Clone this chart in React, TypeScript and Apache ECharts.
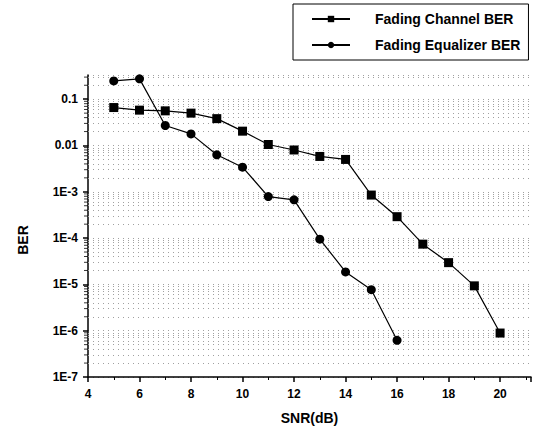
import React, { useEffect, useRef } from "react";
import * as echarts from "echarts";

const channelSNR = [5, 6, 7, 8, 9, 10, 11, 12, 13, 14, 15, 16, 17, 18, 19, 20];
const channelBER = [0.066, 0.058, 0.056, 0.05, 0.038, 0.0204, 0.0105, 0.008, 0.0058, 0.005, 8.5e-4, 2.9e-4, 7.4e-5, 2.95e-5, 9.3e-6, 8.9e-7];
const equalizerSNR = [5, 6, 7, 8, 9, 10, 11, 12, 13, 14, 15, 16];
const equalizerBER = [0.248, 0.275, 0.027, 0.0178, 0.0063, 0.0034, 7.9e-4, 6.7e-4, 9.5e-5, 1.86e-5, 7.7e-6, 6.2e-7];
const decades = [-7, -6, -5, -4, -3, -2, -1];
const minorSteps = [2, 3, 4, 5, 6, 7, 8, 9];
const yTickLabels: Record<string, string> = {
  "-7": "1E-7", "-6": "1E-6", "-5": "1E-5", "-4": "1E-4", "-3": "1E-3", "-2": "0.01", "-1": "0.1",
};

const X_MIN = 4;
const X_MAX = 21.2;
const Y_MIN_BER = 1e-7;
const Y_MAX_BER = 0.333;

const FONT = "'Liberation Sans Narrow', 'Liberation Sans', Arial, sans-serif";
const FONT_WIDE = "'Liberation Sans', Arial, sans-serif";

export default function App() {
  const ref = useRef<HTMLDivElement>(null);
  useEffect(() => {
    if (!ref.current) return;
    const chart = echarts.init(ref.current, undefined, { renderer: "svg" });
    const lg = (v: number) => Math.log10(v);
    const minorLogs: number[] = [];
    decades.forEach((d) => {
      minorSteps.forEach((k) => {
        const v = k * Math.pow(10, d);
        if (v < Y_MAX_BER) minorLogs.push(lg(v));
      });
    });
    const gridStyle = { color: "#a0a0a0", type: [1, 4] as any, width: 1 };
    chart.setOption({
      animation: false,
      backgroundColor: "#ffffff",
      grid: { left: 88, top: 75, width: 443, height: 302 },
      legend: {
        orient: "vertical",
        left: 293,
        top: 4,
        data: ["Fading Channel BER", "Fading Equalizer BER"],
        borderColor: "#000",
        borderWidth: 1,
        borderRadius: 0,
        padding: [7, 8, 7, 18],
        itemWidth: 38,
        itemHeight: 8,
        itemGap: 10,
        textStyle: {
          fontFamily: FONT_WIDE,
          fontWeight: "bold",
          fontSize: 14,
          color: "#000",
          lineHeight: 16,
          padding: [0, 0, 0, 20],
        },
      },
      xAxis: {
        type: "value",
        min: X_MIN,
        max: X_MAX,
        interval: 2,
        name: "SNR(dB)",
        nameLocation: "middle",
        nameGap: 34,
        nameTextStyle: { fontFamily: FONT_WIDE, fontWeight: "bold", fontSize: 14, color: "#000" },
        axisLine: { show: true, onZero: false, lineStyle: { color: "#000", width: 1.5 } },
        axisTick: { show: true, length: 5, lineStyle: { color: "#000", width: 1.5 } },
        minorTick: { show: true, splitNumber: 2, length: 3, lineStyle: { color: "#000", width: 1 } },
        splitLine: { show: false },
        axisLabel: {
          margin: 11,
          fontFamily: FONT,
          fontWeight: "bold",
          fontSize: 12,
          color: "#000",
          showMaxLabel: false,
          formatter: (v: number) => (Number.isInteger(v) ? String(v) : ""),
        },
      },
      yAxis: {
        type: "value",
        min: lg(Y_MIN_BER),
        max: lg(Y_MAX_BER),
        interval: 1,
        name: "BER",
        nameLocation: "middle",
        nameGap: 58,
        nameTextStyle: { fontFamily: FONT_WIDE, fontWeight: "bold", fontSize: 14, color: "#000", padding: [0, 28, 0, 0] },
        axisLine: { show: true, onZero: false, lineStyle: { color: "#000", width: 1.5 } },
        axisTick: { show: true, length: 5, lineStyle: { color: "#000", width: 1.5 } },
        splitLine: { show: true, lineStyle: gridStyle },
        axisLabel: {
          margin: 10,
          fontFamily: FONT,
          fontWeight: "bold",
          fontSize: 12,
          color: "#000",
          showMaxLabel: false,
          formatter: (v: number) => yTickLabels[String(Math.round(v))] ?? "",
        },
      },
      series: [
        {
          name: "Fading Channel BER",
          type: "line",
          data: channelSNR.map((x, i) => [x, lg(channelBER[i])]),
          symbol: "rect",
          symbolSize: 9,
          itemStyle: { color: "#000" },
          lineStyle: { color: "#000", width: 1.2 },
          z: 5,
          markLine: {
            silent: true,
            symbol: "none",
            label: { show: false },
            lineStyle: gridStyle,
            data: minorLogs.map((v) => ({ yAxis: v })),
            z: 1,
          },
        },
        {
          name: "Fading Equalizer BER",
          type: "line",
          data: equalizerSNR.map((x, i) => [x, lg(equalizerBER[i])]),
          symbol: "circle",
          symbolSize: 9,
          itemStyle: { color: "#000" },
          lineStyle: { color: "#000", width: 1.2 },
          z: 5,
        },
        {
          name: "minor ticks",
          type: "scatter",
          silent: true,
          clip: false,
          data: minorLogs.map((v) => [X_MIN, v]),
          symbol: "rect",
          symbolSize: [4, 1],
          symbolOffset: [-2, 0],
          itemStyle: { color: "#000" },
          z: 4,
        },
      ],
    });
    return () => chart.dispose();
  }, []);
  return (
    <div
      ref={ref}
      style={{ position: "fixed", left: 0, top: 0, width: 554, height: 432, background: "#fff" }}
    />
  );
}
